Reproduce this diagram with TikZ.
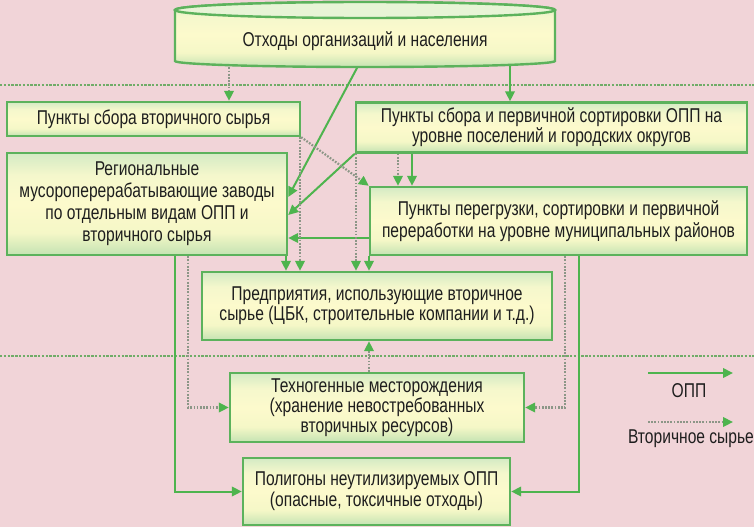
\documentclass[tikz,border=0pt]{standalone}
\usepackage{fontspec}
\setmainfont{Liberation Sans}[FakeStretch=0.78]
\usetikzlibrary{arrows.meta,calc}
\pgfdeclarelayer{back}
\pgfdeclarelayer{bg}
\pgfsetlayers{back,bg,main}
\definecolor{bgpink}{RGB}{241,212,216}
\definecolor{gline}{RGB}{78,180,78}
\definecolor{gborder}{RGB}{92,178,92}
\definecolor{dotgray}{RGB}{140,150,135}
\definecolor{sepg}{RGB}{112,172,104}
\definecolor{topin}{RGB}{232,244,214}
\definecolor{txt}{RGB}{30,30,30}
\pgfdeclareverticalshading{boxshade}{100bp}{%
  rgb(0bp)=(0.77,0.89,0.70);
  rgb(25bp)=(0.77,0.89,0.70);
  rgb(36bp)=(0.96,0.97,0.78);
  rgb(50bp)=(0.99,0.98,0.80);
  rgb(64bp)=(0.96,0.97,0.80);
  rgb(75bp)=(0.83,0.92,0.77);
  rgb(100bp)=(0.83,0.92,0.77)}
\begin{document}
\begin{tikzpicture}[x=1pt,y=-1pt,
  box/.style={draw=gborder, line width=2.4pt, inner sep=0pt, align=center,
    text=txt, shading=boxshade,
    font=\fontsize{20}{20}\selectfont},
  lbl/.style={inner sep=0pt, text=txt, font=\fontsize{20}{20}\selectfont},
  solidarrow/.style={draw=gline, line width=2pt,
    -{Triangle[length=10pt,width=9.5pt]}},
  dotarrow/.style={draw=dotgray, line width=2.2pt, dash pattern=on 1.7pt off 1.5pt,
    -{Triangle[length=10pt,width=9.5pt,color=gline]}},
  sepline/.style={draw=sepg, line width=2.4pt, dash pattern=on 2.4pt off 1.4pt}]
\useasboundingbox (0,0) rectangle (754,527);
\begin{pgfonlayer}{back}
\fill[bgpink] (0,0) rectangle (754,527);
\end{pgfonlayer}

% cylinder
\path[draw=gborder, line width=2.4pt, shading=boxshade]
  (175,10) -- (175,61) arc[start angle=180, end angle=0, x radius=190, y radius=6]
  -- (555,10) arc[start angle=0, end angle=-180, x radius=190, y radius=8] -- cycle;
\path[draw=gborder, line width=2.4pt, fill=topin]
  (365,10) ellipse [x radius=190, y radius=8];
\node[lbl, minimum width=380pt, minimum height=46pt] (src) at (365,41)
  {Отходы организаций и населения};

% boxes
\node[box, minimum width=293pt, minimum height=34pt] (A) at (153.5,119)
  {Пункты сбора вторичного сырья};
\node[box, minimum width=391pt, minimum height=50pt,
  font=\fontsize{20}{18.5}\selectfont] (B) at (551.5,127.5)
  {Пункты сбора и первичной сортировки ОПП на\\уровне поселений и городских округов};
\node[box, minimum width=280pt, minimum height=102pt,
  font=\fontsize{20}{22}\selectfont] (C) at (147,204)
  {Региональные\\мусороперерабатывающие заводы\\по отдельным видам ОПП и\\вторичного сырья};
\node[box, minimum width=377pt, minimum height=68pt,
  font=\fontsize{20}{22}\selectfont] (D) at (558.5,221)
  {Пункты перегрузки, сортировки и первичной\\переработки на уровне муниципальных районов};
\node[box, minimum width=350pt, minimum height=68pt] (E) at (377,306)
  {Предприятия, использующие вторичное\\сырье (ЦБК, строительные компании и т.д.)};
\node[box, minimum width=294pt, minimum height=69pt,
  font=\fontsize{20}{18.5}\selectfont] (F) at (377,407.5)
  {Техногенные месторождения\\(хранение невостребованных\\вторичных ресурсов)};
\node[box, minimum width=267pt, minimum height=67pt,
  font=\fontsize{20}{21}\selectfont] (G) at (376.5,491.5)
  {Полигоны неутилизируемых ОПП\\(опасные, токсичные отходы)};

% legend
\coordinate (l1a) at (648,373);
\coordinate (l1b) at (733,373);
\coordinate (l2a) at (648,422);
\coordinate (l2b) at (733,422);
\node[lbl] (l1t) at (689,391) {ОПП};
\node[lbl] (l2t) at (691,439) {Вторичное сырье};

\begin{pgfonlayer}{bg}
\draw[sepline] (0,85) -- (754,85);
\draw[sepline] (0,356) -- (754,356);

\draw[dotarrow] (229,0 |- src.south) -- (229,0 |- A.north);
\draw[solidarrow] (510,0 |- src.south) -- (510,0 |- B.north);
\draw[solidarrow] (359,0 |- src.south) -- (C.east |- 0,197);
\draw[solidarrow] (B.south west) -- (C.east |- 0,215);
\draw[dotarrow] (A.south east) -- (D.north west);
\draw[solidarrow] (D.west |- 0,238) -- (C.east |- 0,238);
\draw[dotarrow] (398,0 |- B.south) -- (398,0 |- D.north);
\draw[solidarrow] (412,0 |- B.south) -- (412,0 |- D.north);
\draw[solidarrow] (286,0 |- C.south) -- (286,0 |- E.north);
\draw[dotarrow] (300,0 |- A.south) -- (300,0 |- E.north);
\draw[dotarrow] (356,0 |- B.south) -- (356,0 |- E.north);
\draw[solidarrow] (369,0 |- D.south) -- (369,0 |- E.north);
\draw[dotarrow] (369,0 |- F.north) -- (369,0 |- E.south);
\draw[dotarrow] (188,0 |- C.south) |- (F.west);
\draw[solidarrow] (175,0 |- C.south) |- (G.west);
\draw[dotarrow] (565,0 |- D.south) |- (F.east);
\draw[solidarrow] (579,0 |- D.south) |- (G.east);

\draw[solidarrow] (l1a) -- (l1b);
\draw[dotarrow] (l2a) -- (l2b);
\end{pgfonlayer}
\end{tikzpicture}
\end{document}
